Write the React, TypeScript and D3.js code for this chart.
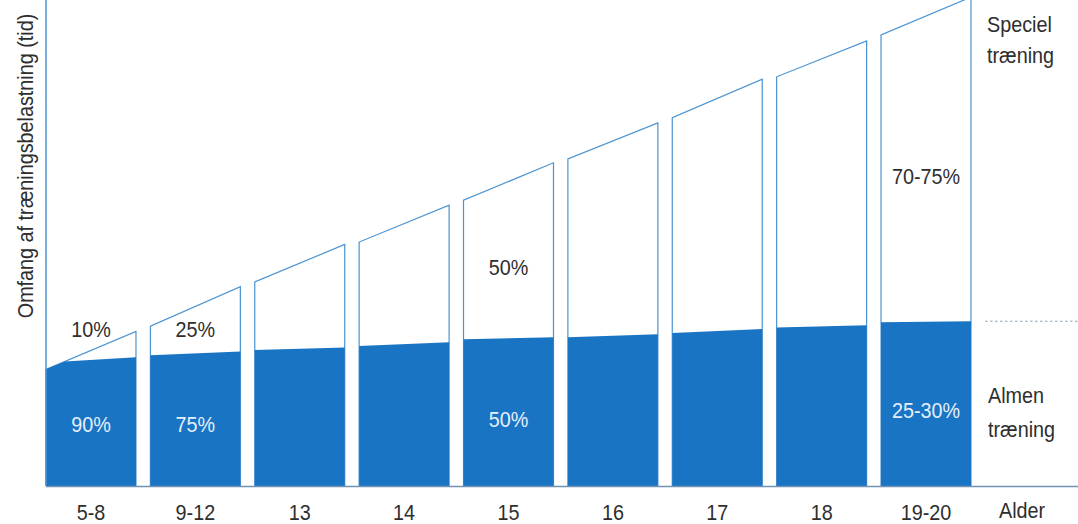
import React from "react";
import * as d3 from "d3";

const categories = ["5-8", "9-12", "13", "14", "15", "16", "17", "18", "19-20"];
// total training volume (top edge of each column), at its left and right side
const totalStart = [24, 32.9, 42, 50.2, 58.8, 67.3, 75.8, 84.2, 92.8];
const totalEnd = [31.8, 41, 49.7, 57.8, 66.5, 74.7, 83.7, 91.6, 100.6];
// general training (blue part), at left and right side of each column
const almenStart = [25.4, 26.9, 28.0, 28.8, 30.2, 30.6, 31.5, 32.6, 33.7];
const almenEnd = [26.5, 27.7, 28.5, 29.6, 30.6, 31.2, 32.3, 33.1, 33.9];

const specialCats = ["5-8", "9-12", "15", "19-20"];
const specialTexts = ["10%", "25%", "50%", "70-75%"];
const specialLevels = [30.6, 30.6, 43.4, 62.2];

const almenCats = ["5-8", "9-12", "15", "19-20"];
const almenTexts = ["90%", "75%", "50%", "25-30%"];
const almenLevels = [11.1, 11.1, 12.1, 14];

const yTitle = "Omfang af træningsbelastning (tid)";
const xTitle = "Alder";
const specialLegend = ["Speciel", "træning"];
const almenLegend = ["Almen", "træning"];

const W = 1078;
const H = 524;
const FONT = "'Liberation Sans', Arial, sans-serif";
const BLUE = "#1a74c4";
const LINE = "#4a93d1";
const TEXT = "#2e2e2e";
const FS = 22;
const SX = 0.9;

function CText(props: { x: number; y: number; anchor?: string; fill?: string; rotate?: number; children: React.ReactNode }) {
  const { x, y, anchor = "start", fill = TEXT, rotate = 0, children } = props;
  return (
    <text
      transform={`translate(${x},${y}) rotate(${rotate}) scale(${SX},1)`}
      textAnchor={anchor}
      fontFamily={FONT}
      fontSize={FS}
      fill={fill}
    >
      {children}
    </text>
  );
}

export default function App() {
  const x = d3.scaleBand<string>().domain(categories).range([46, 971]).paddingInner(0.138).paddingOuter(0);
  const y = d3.scaleLinear().domain([0, 100]).range([486, 0]);
  const bw = x.bandwidth();
  const y0 = y(0);

  const bars = categories.map((c, i) => {
    const x0 = x(c) as number;
    const x1 = x0 + bw;
    const ts = totalStart[i], te = totalEnd[i];
    const as = almenStart[i], ae = almenEnd[i];
    const pts: [number, number][] = [];
    if (ts < as) {
      const u = (as - ts) / ((te - ts) - (ae - as));
      const xc = x0 + u * bw;
      pts.push([x0, y(ts)], [xc, y(ts + (te - ts) * u)]);
    } else {
      pts.push([x0, y(as)]);
    }
    pts.push([x1, y(Math.min(te, ae))], [x1, y0], [x0, y0]);
    const blue = d3.line()(pts) + "Z";
    const outline = d3.line()([[x0, y0], [x0, y(ts)], [x1, y(te)], [x1, y0]]) as string;
    return { c, blue, outline };
  });

  const last = categories.length - 1;
  const dotY = y(almenEnd[last]);

  return (
    <div style={{ position: "absolute", left: 0, top: 0 }}>
      <svg width={W} height={H} style={{ display: "block", background: "#fff" }}>
        {bars.map((b) => (
          <g key={b.c}>
            <path d={b.outline} fill="#fff" stroke={LINE} strokeWidth={1.2} />
            <path d={b.blue} fill={BLUE} />
          </g>
        ))}
        {/* y axis */}
        <line x1={46} x2={46} y1={0} y2={y0} stroke={LINE} strokeWidth={1.5} />
        {/* baseline */}
        <line x1={46} x2={W} y1={y0 + 0.5} y2={y0 + 0.5} stroke="#6f93b3" strokeWidth={1.3} />
        {/* dotted continuation of general training level */}
        <line x1={985} x2={W} y1={dotY} y2={dotY} stroke="#8fa6b8" strokeWidth={1} strokeDasharray="2.5,2.5" />

        {/* category labels */}
        {categories.map((c) => (
          <CText key={c} x={(x(c) as number) + bw / 2} y={520} anchor="middle">{c}</CText>
        ))}
        <CText x={999} y={518}>{xTitle}</CText>

        {/* percentage labels */}
        {specialCats.map((c, i) => (
          <CText key={"s" + i} x={(x(c) as number) + bw / 2} y={y(specialLevels[i])} anchor="middle">
            {specialTexts[i]}
          </CText>
        ))}
        {almenCats.map((c, i) => (
          <CText key={"a" + i} x={(x(c) as number) + bw / 2} y={y(almenLevels[i])} anchor="middle" fill="#e4effa">
            {almenTexts[i]}
          </CText>
        ))}

        {/* legend texts on the right */}
        {specialLegend.map((t, i) => (
          <CText key={"sl" + i} x={987} y={32 + i * 31}>{t}</CText>
        ))}
        {almenLegend.map((t, i) => (
          <CText key={"al" + i} x={988} y={403 + i * 34}>{t}</CText>
        ))}

        {/* y axis title */}
        <CText x={33} y={166} anchor="middle" rotate={-90}>{yTitle}</CText>
      </svg>
    </div>
  );
}
